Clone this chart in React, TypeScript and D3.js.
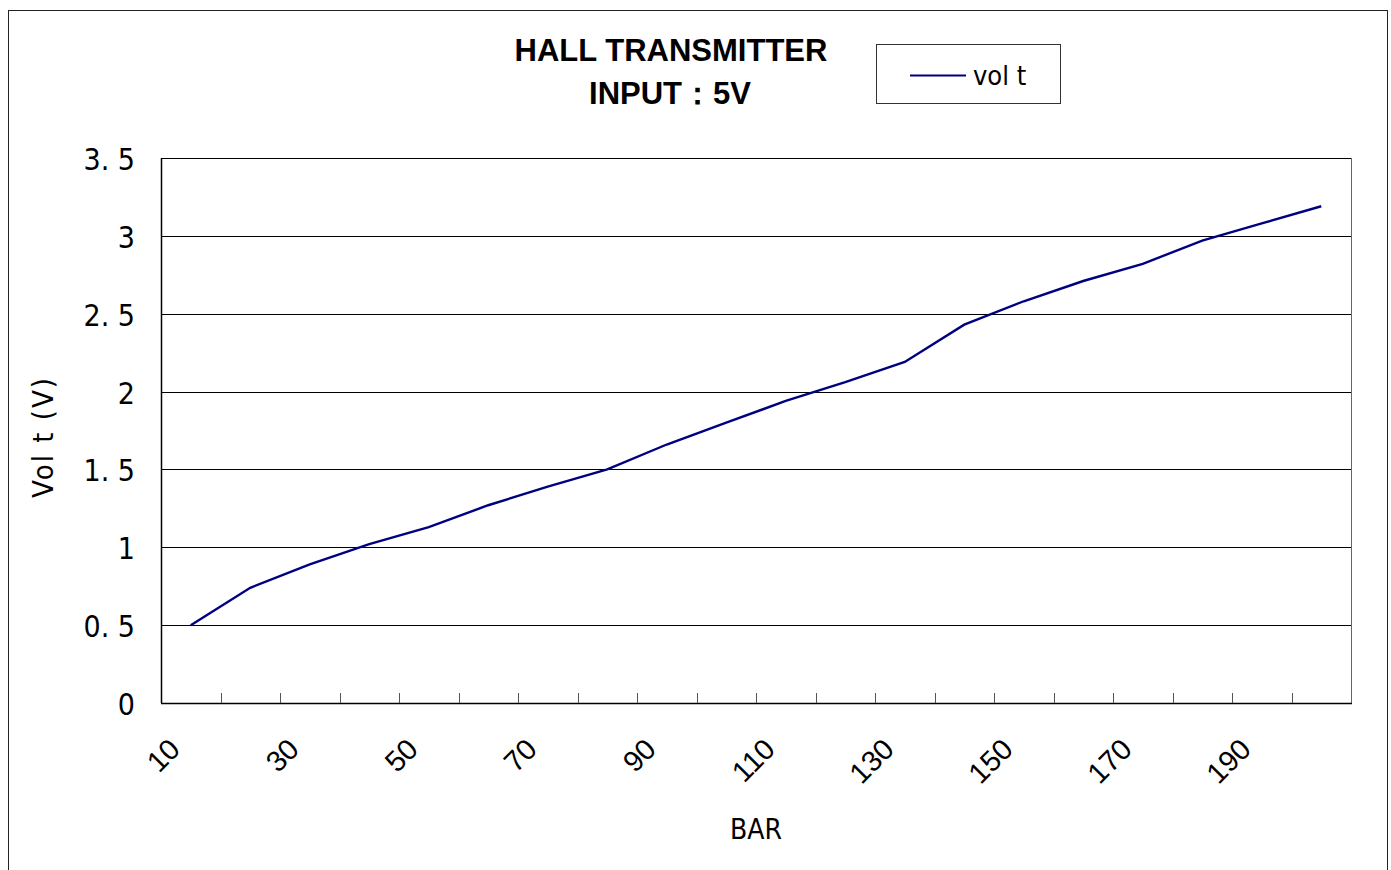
import React, { useEffect, useRef } from 'react';
import * as d3 from 'd3';

// BAR readings and matching output voltage
const bars = [10, 20, 30, 40, 50, 60, 70, 80, 90, 100, 110, 120, 130, 140, 150, 160, 170, 180, 190, 200];
const volts = [0.5, 0.74, 0.89, 1.02, 1.13, 1.27, 1.39, 1.5, 1.66, 1.8, 1.94, 2.06, 2.19, 2.43, 2.58, 2.71, 2.82, 2.97, 3.08, 3.19];
const yTicks = [0, 0.5, 1, 1.5, 2, 2.5, 3, 3.5];
const xLabels = [10, 30, 50, 70, 90, 110, 130, 150, 170, 190];

const narrow = '"DejaVu Sans Condensed", "Liberation Sans Narrow", "Liberation Sans", sans-serif';
const arial = '"Liberation Sans", Arial, sans-serif';

const App = () => {
  const svgRef = useRef<SVGSVGElement>(null);

  useEffect(() => {
    const W = 1391;
    const H = 870;
    const margin = { left: 161, right: 40, top: 158, bottom: 167 };
    const width = W - margin.left - margin.right;
    const height = H - margin.top - margin.bottom;

    const svg = d3.select(svgRef.current).attr('width', W).attr('height', H);
    svg.selectAll('*').remove();

    // outer chart frame
    svg
      .append('rect')
      .attr('x', 8.5)
      .attr('y', 10.5)
      .attr('width', 1379)
      .attr('height', 900)
      .attr('fill', '#fff')
      .attr('stroke', '#222')
      .attr('stroke-width', 1);

    // title
    const title = svg
      .append('text')
      .attr('text-anchor', 'middle')
      .attr('font-family', arial)
      .attr('font-weight', 'bold')
      .attr('font-size', '31px')
      .attr('fill', '#000');
    title.append('tspan').attr('x', 671).attr('y', 61).text('HALL TRANSMITTER');
    title.append('tspan').attr('x', 670).attr('y', 104).text('INPUT：5V');

    // legend
    const lg = svg.append('g');
    lg.append('rect')
      .attr('x', 876.5)
      .attr('y', 44.5)
      .attr('width', 184)
      .attr('height', 59)
      .attr('fill', '#fff')
      .attr('stroke', '#333');
    lg.append('line')
      .attr('x1', 910)
      .attr('x2', 966)
      .attr('y1', 75.5)
      .attr('y2', 75.5)
      .attr('stroke', '#000080')
      .attr('stroke-width', 2);
    lg.append('text')
      .attr('x', 973)
      .attr('y', 85)
      .attr('font-family', narrow)
      .attr('font-size', '27px')
      .text('vol t');

    const g = svg.append('g').attr('transform', `translate(${margin.left}, ${margin.top})`);

    const x = d3.scaleBand<number>().domain(bars).range([0, width]).padding(0);
    const y = d3.scaleLinear().domain([0, 3.5]).range([height, 0]);

    // gridlines
    g.selectAll('line.grid')
      .data(yTicks.filter((d) => d > 0))
      .enter()
      .append('line')
      .attr('class', 'grid')
      .attr('x1', 0)
      .attr('x2', width)
      .attr('y1', (d) => Math.round(y(d)) + 0.5)
      .attr('y2', (d) => Math.round(y(d)) + 0.5)
      .attr('stroke', '#000')
      .attr('stroke-width', 1);

    // plot frame (left, right, bottom)
    g.append('line')
      .attr('x1', width + 0.5)
      .attr('x2', width + 0.5)
      .attr('y1', 0)
      .attr('y2', height)
      .attr('stroke', '#666');
    g.append('line')
      .attr('x1', 0.5)
      .attr('x2', 0.5)
      .attr('y1', 0)
      .attr('y2', height)
      .attr('stroke', '#000')
      .attr('stroke-width', 1.5);
    g.append('line')
      .attr('x1', 0)
      .attr('x2', width + 1)
      .attr('y1', height + 0.5)
      .attr('y2', height + 0.5)
      .attr('stroke', '#000')
      .attr('stroke-width', 1.5);

    // x ticks at category boundaries, pointing inward
    g.selectAll('line.xtick')
      .data(bars.slice(1))
      .enter()
      .append('line')
      .attr('class', 'xtick')
      .attr('x1', (d) => Math.round(x(d) as number) + 0.5)
      .attr('x2', (d) => Math.round(x(d) as number) + 0.5)
      .attr('y1', height)
      .attr('y2', height - 10)
      .attr('stroke', '#555');

    // y tick labels
    g.selectAll('text.ylab')
      .data(yTicks)
      .enter()
      .append('text')
      .attr('class', 'ylab')
      .attr('x', -26)
      .attr('y', (d) => y(d) + 12)
      .attr('text-anchor', 'end')
      .attr('font-family', narrow)
      .attr('font-size', '30px')
      .attr('fill', '#000')
      .text((d) => d3.format('')(d).replace('.', '. '));

    // x tick labels, rotated
    g.selectAll('text.xlab')
      .data(xLabels)
      .enter()
      .append('text')
      .attr('class', 'xlab')
      .attr('text-anchor', 'end')
      .attr('font-family', arial)
      .attr('font-size', '29px')
      .attr('fill', '#000')
      .attr('transform', (d) => {
        const cx = (x(d) as number) + x.bandwidth() / 2 - 9;
        return `translate(${cx}, ${height + 48}) rotate(-45)`;
      })
      .text((d) => d);

    // axis titles
    g.append('text')
      .attr('x', 756 - margin.left)
      .attr('y', 839 - margin.top)
      .attr('text-anchor', 'middle')
      .attr('font-family', narrow)
      .attr('font-size', '28px')
      .text('BAR');
    g.append('text')
      .attr('transform', `translate(${53 - margin.left}, ${437 - margin.top}) rotate(-90)`)
      .attr('text-anchor', 'middle')
      .attr('font-family', narrow)
      .attr('font-size', '29px')
      .attr('letter-spacing', '2px')
      .text('Vol t (V)');

    // the series
    const line = d3
      .line<number>()
      .x((_, i) => (x(bars[i]) as number) + x.bandwidth() / 2)
      .y((d) => y(d));
    g.append('path')
      .datum(volts)
      .attr('d', line)
      .attr('fill', 'none')
      .attr('stroke', '#000080')
      .attr('stroke-width', 2.4);
  }, []);

  return (
    <div className="chart">
      <svg ref={svgRef} style={{ position: 'absolute', left: 0, top: 0, background: '#fff' }}></svg>
    </div>
  );
};

export default App;
